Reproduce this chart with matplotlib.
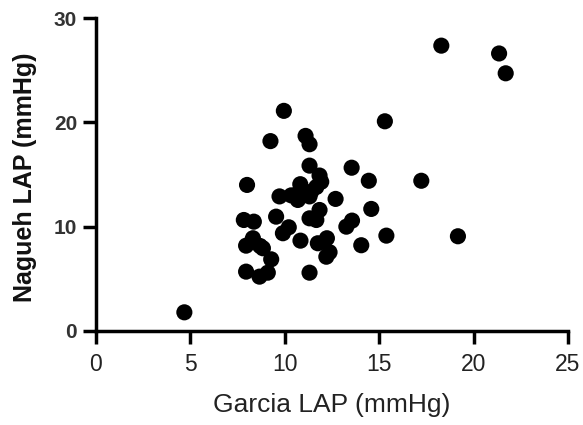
import matplotlib.pyplot as plt

plt.rcParams['font.family'] = ['Liberation Sans', 'DejaVu Sans']

# Garcia LAP (x) vs Nagueh LAP (y), mmHg
garcia_lap = [4.68, 18.29, 21.35, 21.70, 9.95, 15.30, 9.24, 11.10, 11.31, 11.31,
              13.54, 11.84, 11.93, 14.45, 17.23, 8.00, 10.82, 9.72, 10.34, 10.69,
              11.40, 11.67, 12.69, 10.78, 11.31, 11.84, 14.58, 9.54, 11.31, 11.67,
              7.83, 8.36, 13.56, 13.26, 10.21, 9.90, 15.38, 19.17, 7.95, 8.31,
              8.69, 8.84, 10.83, 11.75, 12.23, 14.05, 12.37, 12.20, 9.28, 7.95,
              8.66, 9.10, 11.31]
nagueh_lap = [1.79, 27.35, 26.60, 24.70, 21.10, 20.10, 18.20, 18.70, 17.90, 15.85,
              15.65, 14.90, 14.30, 14.40, 14.40, 14.00, 14.07, 12.90, 13.00, 12.56,
              13.36, 13.80, 12.66, 13.36, 12.90, 11.60, 11.70, 10.96, 10.80, 10.64,
              10.64, 10.48, 10.58, 10.00, 9.94, 9.37, 9.14, 9.08, 8.18, 8.89,
              8.15, 7.93, 8.66, 8.41, 8.89, 8.22, 7.55, 7.12, 6.87, 5.69,
              5.21, 5.59, 5.59]

x_ticks = [0, 5, 10, 15, 20, 25]
y_ticks = [0, 10, 20, 30]

fig = plt.figure(figsize=(5.83, 4.25), dpi=100)
ax = fig.add_axes([96 / 583, 1 - 331 / 425, (568 - 96) / 583, (331 - 18) / 425])

ax.scatter(garcia_lap, nagueh_lap, s=135, color='black', edgecolors='none', clip_on=False)

ax.set_xlim(0, 25)
ax.set_ylim(0, 30)
ax.set_xticks(x_ticks)
ax.set_yticks(y_ticks)

for side in ['top', 'right']:
    ax.spines[side].set_visible(False)
for side in ['left', 'bottom']:
    ax.spines[side].set_linewidth(2.5)

ax.tick_params(axis='both', width=2.5, length=9.5, direction='out', colors='black')
ax.tick_params(axis='x', labelsize=16.5, labelcolor='#222222', pad=6)
ax.tick_params(axis='y', labelsize=15, labelcolor='#333333', pad=4)
for lbl in ax.get_yticklabels():
    lbl.set_fontweight('bold')

ax.set_xlabel('Garcia LAP (mmHg)', fontsize=19, color='#222222')
ax.set_ylabel('Nagueh LAP (mmHg)', fontsize=18, fontweight='bold', color='#111111')
ax.xaxis.set_label_coords(0.5, -0.198)
ax.yaxis.set_label_coords(-0.124, 0.49)

fig.savefig('out.png', dpi=100)
